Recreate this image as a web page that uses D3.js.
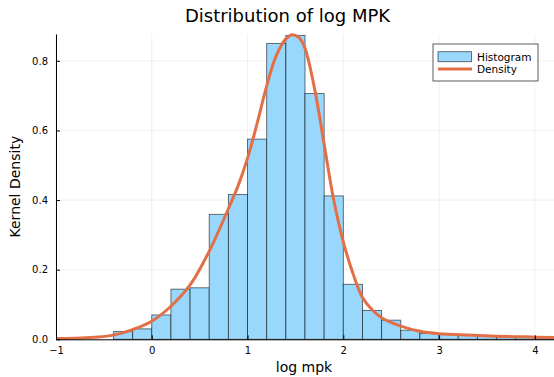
<!DOCTYPE html>
<html>
<head>
<meta charset="utf-8">
<script src="https://cdn.jsdelivr.net/npm/d3@7"></script>
<style>
  html, body { margin: 0; padding: 0; background: #fff; }
  svg { display: block; font-family: "DejaVu Sans", sans-serif; }
</style>
</head>
<body>
<svg id="chart" width="554" height="377"></svg>
<script>
// Histogram of log MPK: bin left edges (width 0.2) and densities
const binWidth = 0.2;
const binStarts = [-0.4, -0.2, 0.0, 0.2, 0.4, 0.6, 0.8, 1.0, 1.2, 1.4, 1.6, 1.8,
                   2.0, 2.2, 2.4, 2.6, 2.8, 3.0, 3.2, 3.4, 3.6, 3.8, 4.0];
const binDensity = [0.022, 0.030, 0.070, 0.144, 0.148, 0.359, 0.416, 0.575, 0.850, 0.873, 0.706, 0.412,
                    0.158, 0.083, 0.055, 0.026, 0.017, 0.014, 0.011, 0.008, 0.006, 0.005, 0.004];

// Kernel density estimate, sampled along x
const kdeX = [-1.0, -0.8, -0.6, -0.4, -0.2, 0.0, 0.2, 0.4, 0.6, 0.8, 0.9, 1.0, 1.1, 1.2, 1.3, 1.4, 1.47,
              1.54, 1.6, 1.7, 1.8, 1.9, 2.0, 2.1, 2.2, 2.3, 2.4, 2.6, 2.8, 3.0, 3.3, 3.6, 3.9, 4.2];
const kdeY = [0.002, 0.003, 0.006, 0.012, 0.028, 0.052, 0.095, 0.156, 0.253, 0.375, 0.44, 0.52, 0.62, 0.728,
              0.815, 0.863, 0.875, 0.866, 0.836, 0.72, 0.56, 0.40, 0.28, 0.19, 0.12, 0.085, 0.062, 0.038,
              0.023, 0.016, 0.012, 0.009, 0.007, 0.005];

const xTicks = [-1, 0, 1, 2, 3, 4];
const yTicks = [0.0, 0.2, 0.4, 0.6, 0.8];

const seriesNames = ["Histogram", "Density"];
const histFill = "rgb(153,215,253)";
const kdeColor = "#e26f46";

const svg = d3.select("#chart");
const plot = { left: 56, right: 554, top: 34, bottom: 339.3 };

const x = d3.scaleLinear().domain([-1, 4.2]).range([plot.left, plot.right]);
const y = d3.scaleLinear().domain([0, 0.877]).range([plot.bottom, plot.top]);

// Grid
const grid = svg.append("g");
grid.selectAll("line.gx").data(xTicks).join("line")
  .attr("x1", d => x(d)).attr("x2", d => x(d))
  .attr("y1", plot.top).attr("y2", plot.bottom)
  .attr("stroke", "#000").attr("stroke-opacity", 0.1).attr("stroke-width", 0.6);
grid.selectAll("line.gy").data(yTicks).join("line")
  .attr("x1", plot.left).attr("x2", plot.right)
  .attr("y1", d => y(d)).attr("y2", d => y(d))
  .attr("stroke", "#000").attr("stroke-opacity", 0.1).attr("stroke-width", 0.6);

// Histogram bars
const bins = binStarts.map((s, i) => ({ x0: s, x1: s + binWidth, v: binDensity[i] }));
svg.append("g").selectAll("rect").data(bins).join("rect")
  .attr("x", d => x(d.x0))
  .attr("width", d => x(d.x1) - x(d.x0))
  .attr("y", d => y(d.v))
  .attr("height", d => y(0) - y(d.v))
  .attr("fill", histFill)
  .attr("stroke", "#000").attr("stroke-opacity", 0.6).attr("stroke-width", 0.9);

// Density curve
const line = d3.line()
  .x((d, i) => x(kdeX[i]))
  .y(d => y(d))
  .curve(d3.curveCatmullRom.alpha(0.5));
svg.append("path").datum(kdeY)
  .attr("d", line)
  .attr("fill", "none")
  .attr("stroke", kdeColor).attr("stroke-width", 3)
  .attr("stroke-linejoin", "round");

// Axes
const xAxis = d3.axisBottom(x).tickValues(xTicks).tickSizeInner(-4).tickSizeOuter(0)
  .tickPadding(8).tickFormat(d => d < 0 ? "\u2212" + Math.abs(d) : String(d));
const gx = svg.append("g").attr("transform", `translate(0,${plot.bottom})`).call(xAxis);
gx.select(".domain").attr("stroke", "#000").attr("stroke-width", 1);
gx.selectAll(".tick line").attr("stroke", "#000");
gx.selectAll(".tick text").attr("font-size", 10).attr("font-family", "DejaVu Sans").attr("fill", "#000");

const yAxis = d3.axisLeft(y).tickValues(yTicks).tickSizeInner(-4).tickSizeOuter(0)
  .tickPadding(8).tickFormat(d3.format(".1f"));
const gy = svg.append("g").attr("transform", `translate(${plot.left},0)`).call(yAxis);
gy.select(".domain").attr("stroke", "#000").attr("stroke-width", 1);
gy.selectAll(".tick line").attr("stroke", "#000");
gy.selectAll(".tick text").attr("font-size", 10).attr("font-family", "DejaVu Sans").attr("fill", "#000");

// Title and axis labels
svg.append("text").attr("x", 287.5).attr("y", 22).attr("text-anchor", "middle")
  .attr("font-size", 18).text("Distribution of log MPK");
svg.append("text").attr("x", (plot.left + plot.right) / 2 - 1).attr("y", 372).attr("text-anchor", "middle")
  .attr("font-size", 14).text("log mpk");
svg.append("text")
  .attr("transform", `translate(20,${(plot.top + plot.bottom) / 2}) rotate(-90)`)
  .attr("text-anchor", "middle").attr("font-size", 14).text("Kernel Density");

// Legend
const lg = svg.append("g");
lg.append("rect").attr("x", 433).attr("y", 44).attr("width", 105).attr("height", 37)
  .attr("fill", "#fff").attr("stroke", "#000").attr("stroke-opacity", 0.8).attr("stroke-width", 0.8);
lg.append("rect").attr("x", 438).attr("y", 51.7).attr("width", 33.5).attr("height", 10)
  .attr("fill", histFill).attr("stroke", "#000").attr("stroke-opacity", 0.6).attr("stroke-width", 0.9);
lg.append("line").attr("x1", 438).attr("x2", 472).attr("y1", 69).attr("y2", 69)
  .attr("stroke", kdeColor).attr("stroke-width", 3);
lg.selectAll("text").data(seriesNames).join("text")
  .attr("x", 477).attr("y", (d, i) => 60.5 + i * 12)
  .attr("font-size", 10.5).attr("fill", "#000").text(d => d);
</script>
</body>
</html>
